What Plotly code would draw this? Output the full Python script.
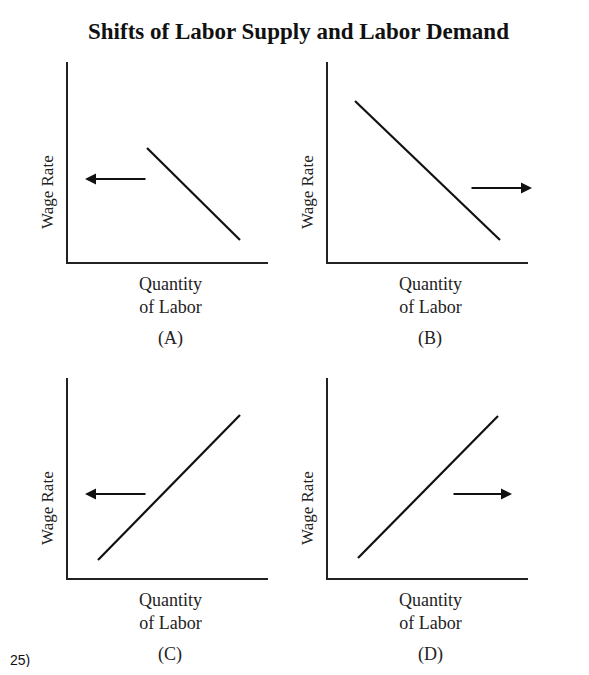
import plotly.graph_objects as go

panels = ["(A)", "(B)", "(C)", "(D)"]
curve_x = [[3.95, 8.6], [1.35, 8.6], [1.5, 8.6], [1.5, 8.5]]
curve_y = [[5.7, 1.1], [8.05, 1.1], [0.9, 8.15], [1.0, 8.1]]
arrow_from = [(3.95, 4.15), (7.1, 3.7), (3.95, 4.2), (6.2, 4.2)]
arrow_to = [(0.85, 4.15), (10.2, 3.7), (0.85, 4.2), (9.2, 4.2)]

OFF = 8  # page body margin
W, H = 589 - 2 * OFF, 675 - 2 * OFF
boxes = [(68, 62), (328, 62), (68, 378), (328, 378)]  # left, top in page px
size = 200
serif = "Liberation Serif"

def px(x):
    return (x - OFF) / W

def py(y):
    return 1 - (y - OFF) / H

fig = go.Figure()
layout = dict(width=W, height=H, margin=dict(l=0, r=0, t=0, b=0),
              plot_bgcolor="white", paper_bgcolor="white", showlegend=False)
anns = []
for i, (lx, ty) in enumerate(boxes):
    n = "" if i == 0 else str(i + 1)
    xd = [px(lx), px(lx + size)]
    yd = [py(ty + size), py(ty)]
    common = dict(range=[0, 10], showline=True, linecolor="#222", linewidth=1.5,
                  showgrid=False, zeroline=False, showticklabels=False, ticks="", fixedrange=True)
    layout["xaxis" + n] = dict(common, domain=xd, anchor="y" + n)
    layout["yaxis" + n] = dict(common, domain=yd, anchor="x" + n)
    fig.add_trace(go.Scatter(x=curve_x[i], y=curve_y[i], mode="lines",
                             line=dict(color="#111", width=2.2),
                             xaxis="x" + n, yaxis="y" + n, cliponaxis=False))
    anns.append(dict(x=arrow_to[i][0], y=arrow_to[i][1], ax=arrow_from[i][0], ay=arrow_from[i][1],
                     xref="x" + n, yref="y" + n, axref="x" + n, ayref="y" + n,
                     showarrow=True, arrowhead=2, arrowsize=1, arrowwidth=2.2,
                     arrowcolor="#111", text=""))
    cx = px(lx + size / 2 + 2)
    anns.append(dict(x=px(lx - 21), y=py(ty + size / 2 + 30), xref="paper", yref="paper",
                     xanchor="center", yanchor="middle",
                     text="Wage Rate", textangle=-90, showarrow=False,
                     font=dict(family=serif, size=17, color="#222")))
    anns.append(dict(x=cx, y=py(ty + size + 33), xref="paper", yref="paper",
                     xanchor="center", yanchor="middle",
                     text="Quantity<br>of Labor", showarrow=False,
                     font=dict(family=serif, size=18, color="#222")))
    anns.append(dict(x=cx, y=py(ty + size + 76), xref="paper", yref="paper",
                     xanchor="center", yanchor="middle",
                     text=panels[i], showarrow=False,
                     font=dict(family=serif, size=18, color="#222")))

anns.append(dict(x=px(298), y=py(32), xref="paper", yref="paper",
                 xanchor="center", yanchor="middle",
                 text="<b>Shifts of Labor Supply and Labor Demand</b>", showarrow=False,
                 font=dict(family=serif, size=23, color="#111")))
anns.append(dict(x=px(8), y=py(660), xref="paper", yref="paper",
                 xanchor="left", yanchor="middle",
                 text="25)", showarrow=False,
                 font=dict(family="Liberation Sans", size=14, color="#111")))
layout["annotations"] = anns
fig.update_layout(**layout)
fig.write_html("out.html")
